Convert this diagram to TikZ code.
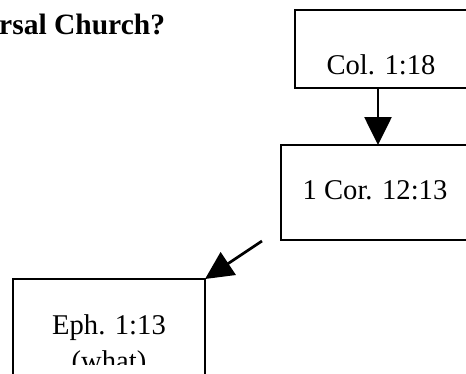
\documentclass[tikz,border=0pt]{standalone}
\usepackage{fontspec}
\setmainfont{Liberation Serif}
\usetikzlibrary{arrows.meta}
\begin{document}
\begin{tikzpicture}[x=1pt,y=-1pt,
  box/.style={draw=black,line width=2.7pt,rectangle,inner sep=0pt,outer sep=0pt,minimum width=#1},
  lbl/.style={anchor=base,inner sep=0pt,font=\fontsize{28.6}{33}\selectfont},
  conn/.style={line width=2.7pt,-{Triangle[length=28pt,width=27pt]}}]
\useasboundingbox (0,0) rectangle (466,373);
\node[anchor=base west,inner sep=0pt,font=\fontsize{29.5}{33}\selectfont\bfseries] (title) at (-1,34) {rsal Church?};
% boxes (right sides lie beyond the picture's edge, as in the reference)
\node[box=220pt,minimum height=78pt,anchor=north west] (b1) at (295,10) {};
\node[box=230pt,minimum height=95pt,anchor=north west] (b2) at (281,145) {};
\node[box=192pt,minimum height=150pt,anchor=north west] (b3) at (13,279) {};
% texts
\node[lbl] (t1) at (381,74) {Col. 1:18};
\node[lbl] (t2) at (375,199) {1 Cor. 12:13};
\begin{scope}
\clip (13,279) rectangle (205,364);
\node[lbl] (t3) at (109,334) {Eph. 1:13};
\node[lbl] (t3b) at (109,370) {(what)};
\end{scope}
% connectors
\coordinate (s) at (262,241);
\coordinate (v) at (378,0);
\draw[conn] (b1.south -| v) -- (b2.north -| v);
\draw[conn] (s) -- (b3.north east);
\end{tikzpicture}
\end{document}
